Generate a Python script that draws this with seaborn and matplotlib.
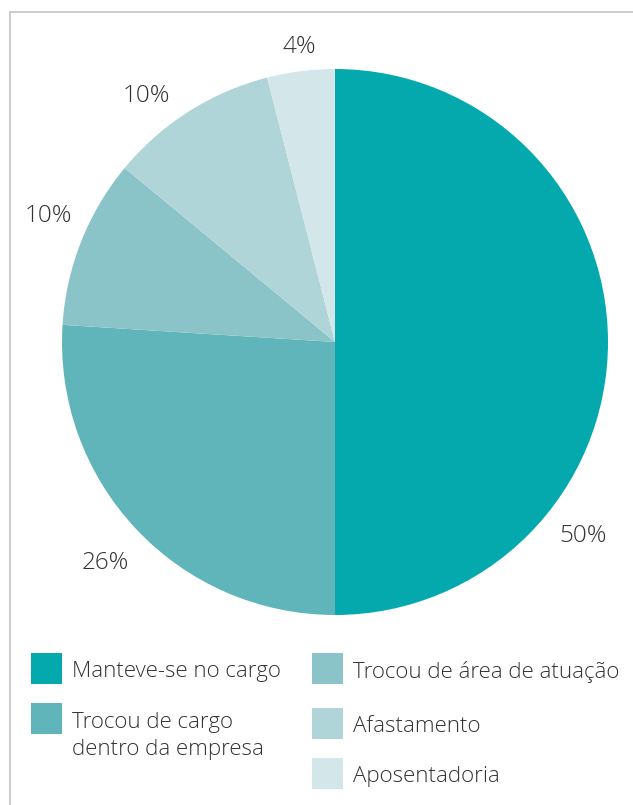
import seaborn as sns
import matplotlib.pyplot as plt
from matplotlib.patches import Rectangle
from matplotlib.lines import Line2D

categories = ["Manteve-se no cargo", "Trocou de cargo\ndentro da empresa",
              "Trocou de área de atuação", "Afastamento", "Aposentadoria"]
values = [50, 26, 10, 10, 4]
pct_labels = ["50%", "26%", "10%", "10%", "4%"]
colors = ["#03a9ad", "#5fb5b9", "#8ac4c8", "#b0d5d8", "#d3e6e9"]

sns.set_theme(style="white")
plt.rcParams['font.family'] = ['Open Sans', 'DejaVu Sans']

W, H = 633, 805
fig = plt.figure(figsize=(W / 100, H / 100), dpi=100)

def fx(px):
    return px / W

def fy(py):
    return 1 - py / H

# pie: centre (335, 342) px, radius 273 px
cx, cy, r = 335, 342, 273
ax = fig.add_axes([fx(cx - r), fy(cy + r), 2 * r / W, 2 * r / H])
ax.pie(values, colors=colors, startangle=90, counterclock=False,
       radius=1, wedgeprops=dict(linewidth=0))
ax.set_xlim(-1, 1)
ax.set_ylim(-1, 1)
ax.set_aspect('equal')
ax.axis('off')

# percentage labels, placed outside the pie
label_pos = [(0.91, -0.71), (-0.84, -0.81), (-1.05, 0.46), (-0.69, 0.90), (-0.13, 1.08)]
for (x, y), lab in zip(label_pos, pct_labels):
    ax.text(x, y, lab, ha='center', va='center', fontsize=17.5,
            color='#333333', fontweight='light')

# frame lines (left and top)
fig.add_artist(Line2D([fx(10), fx(10)], [0, fy(12)], color='#c4c4c4', lw=1.2))
fig.add_artist(Line2D([fx(10), 1], [fy(12), fy(12)], color='#c4c4c4', lw=1.2))

# legend, two columns: square top-left and text baseline (last line) in px
sq_pos = [(31, 653), (31, 703), (312, 653), (312, 708), (312, 758)]
txt_base = [677, 755, 678, 732, 782]
sq = 31
for (x, y), b, cat, col in zip(sq_pos, txt_base, categories, colors):
    fig.add_artist(Rectangle((fx(x), fy(y + sq)), sq / W, sq / H,
                             facecolor=col, edgecolor='none'))
    fig.text(fx(x + 41), fy(b), cat, ha='left', va='baseline',
             fontsize=16, color='#333333', fontweight='light', linespacing=1.4)

fig.savefig("out.png", dpi=100)
